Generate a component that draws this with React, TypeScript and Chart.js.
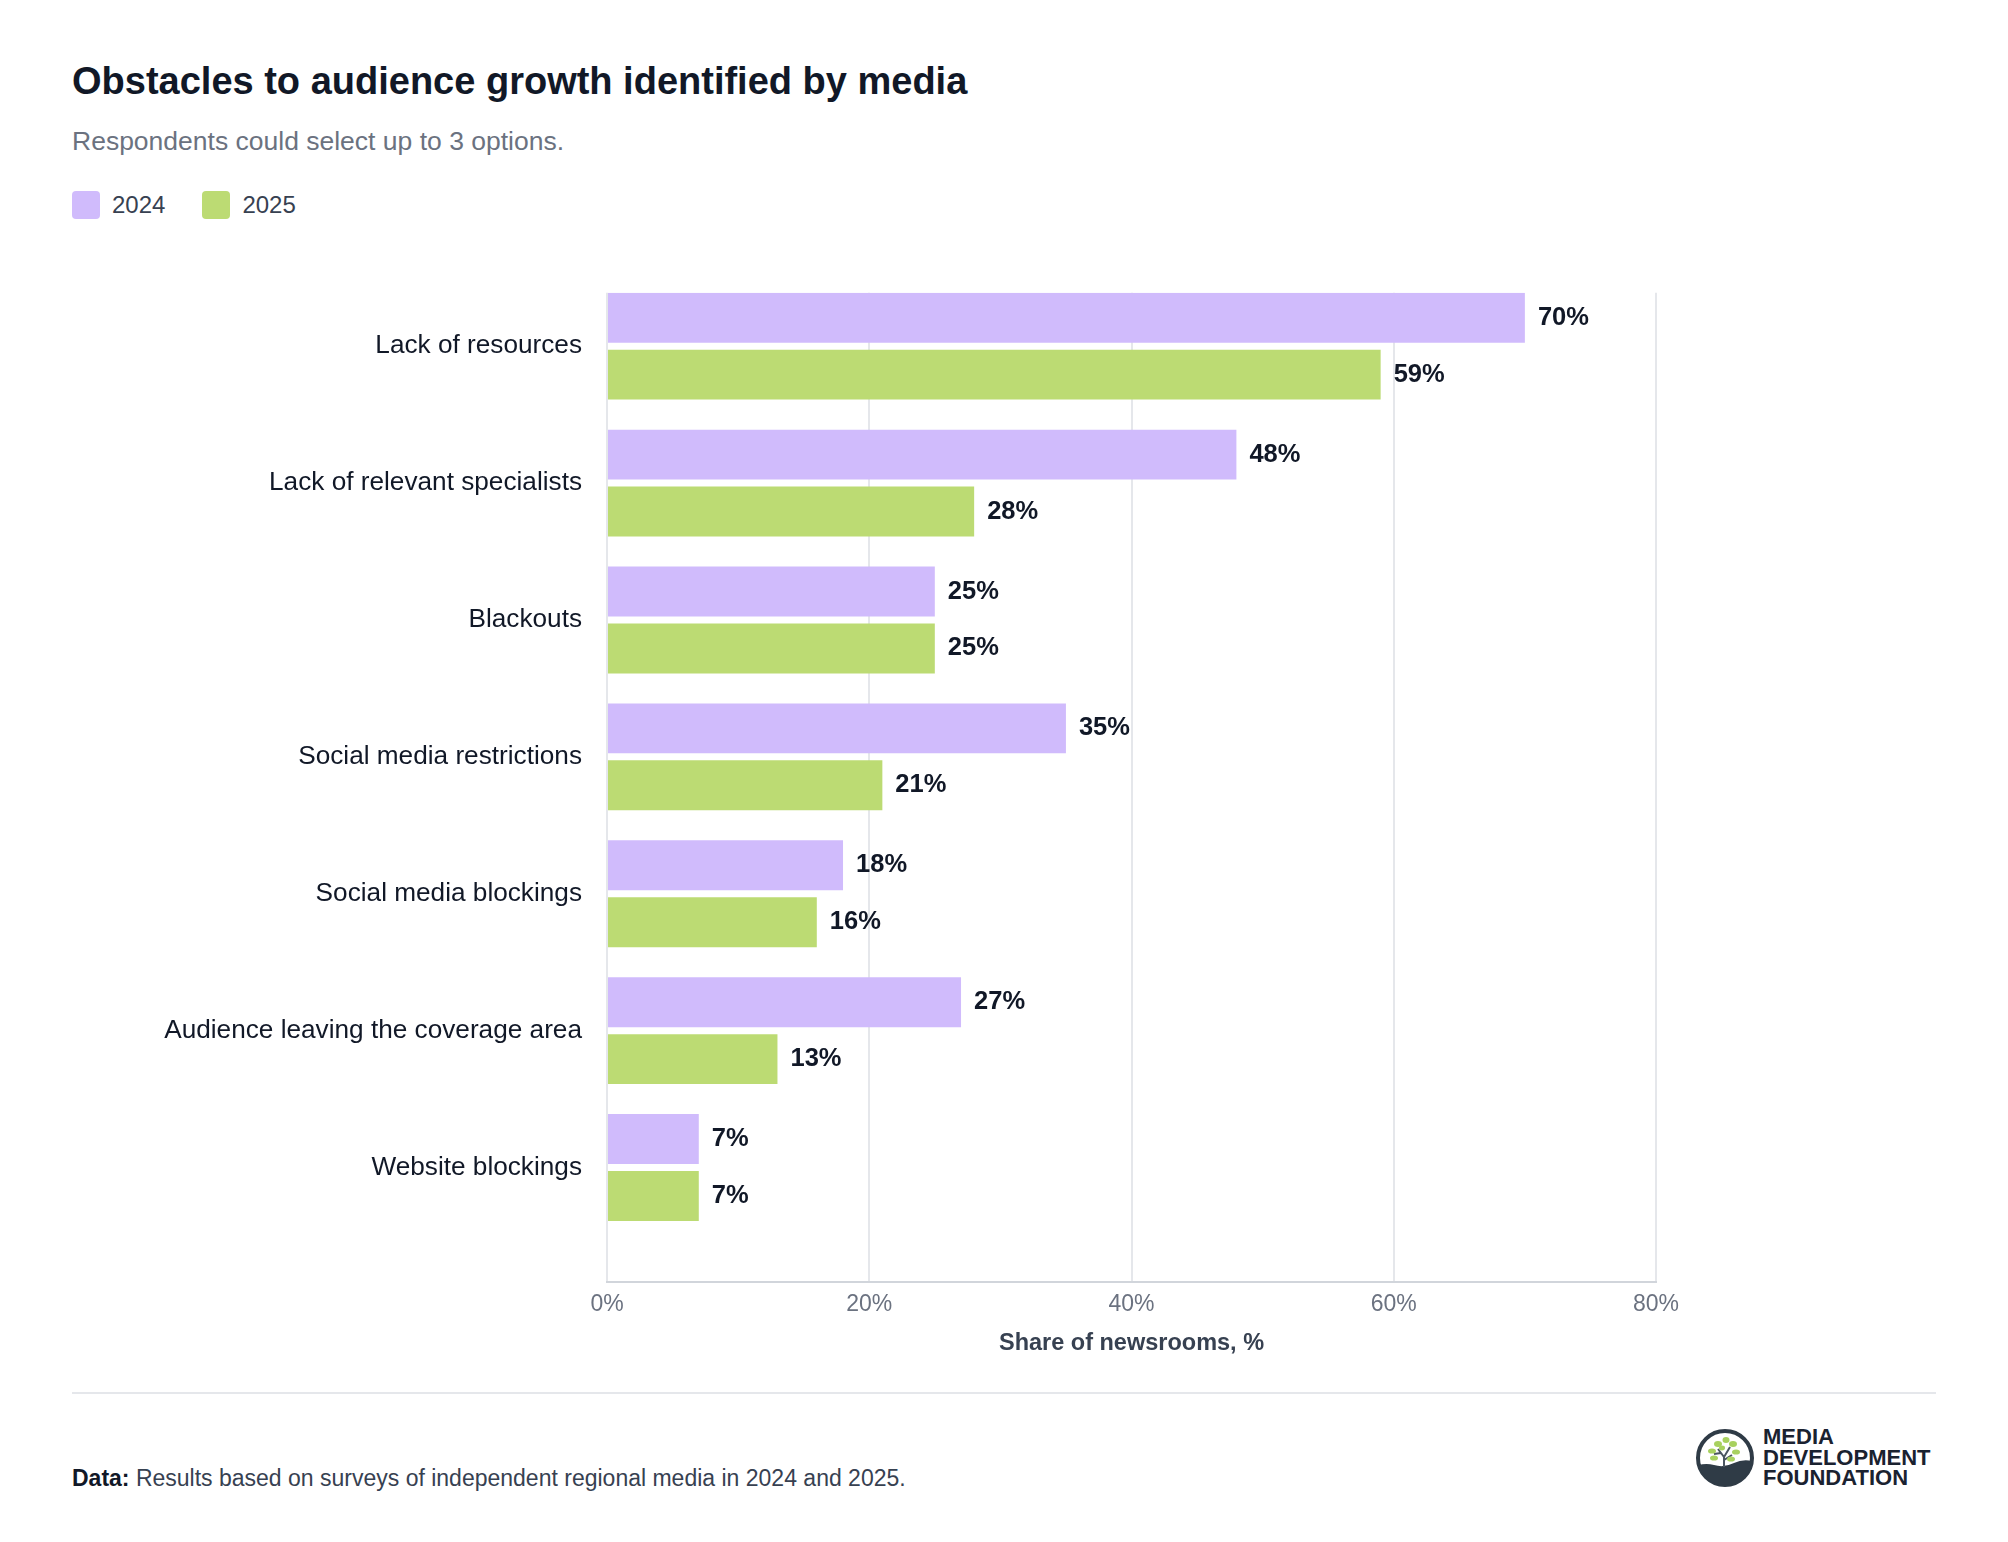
import React, { useEffect, useRef } from 'react';
import { Chart, registerables } from 'chart.js';

Chart.register(...registerables);

const FONT = "'Liberation Sans', Arial, Helvetica, sans-serif";

const categories = [
  'Lack of resources',
  'Lack of relevant specialists',
  'Blackouts',
  'Social media restrictions',
  'Social media blockings',
  'Audience leaving the coverage area',
  'Website blockings',
];
const values2024 = [70, 48, 25, 35, 18, 27, 7];
const values2025 = [59, 28, 25, 21, 16, 13, 7];
const seriesNames = ['2024', '2025'];
const seriesColors = ['#d0bbfc', '#bcdb73'];

// draws "70%" etc. right of each bar
const valueLabels = {
  id: 'valueLabels',
  afterDatasetsDraw(chart: any) {
    const { ctx } = chart;
    ctx.save();
    ctx.font = `bold 25.5px ${FONT}`;
    ctx.fillStyle = '#111827';
    ctx.textAlign = 'left';
    ctx.textBaseline = 'middle';
    chart.data.datasets.forEach((ds: any, di: number) => {
      chart.getDatasetMeta(di).data.forEach((bar: any, i: number) => {
        ctx.fillText(`${ds.data[i].x}%`, bar.x + 13, bar.y);
      });
    });
    ctx.restore();
  },
};

const BarChart: React.FC = () => {
  const chartRef = useRef<HTMLCanvasElement>(null);
  const chartInstance = useRef<Chart | null>(null);

  useEffect(() => {
    if (!chartRef.current) return;
    if (chartInstance.current) chartInstance.current.destroy();
    const ctx = chartRef.current.getContext('2d');
    if (!ctx) return;

    Chart.defaults.font.family = FONT;

    chartInstance.current = new Chart(ctx, {
      type: 'bar',
      data: {
        datasets: [values2024, values2025].map((vals, si) => ({
          label: seriesNames[si],
          data: vals.map((v, i) => ({ x: v, y: i })),
          backgroundColor: seriesColors[si],
          borderWidth: 0,
          categoryPercentage: 0.832,
          barPercentage: 0.877,
        })),
      },
      options: {
        indexAxis: 'y' as const,
        animation: false,
        responsive: true,
        maintainAspectRatio: false,
        layout: { padding: { top: 0, right: 352, bottom: 0, left: 0 } },
        plugins: {
          legend: { display: false },
          tooltip: { enabled: false },
          title: { display: false },
        },
        scales: {
          x: {
            type: 'linear',
            position: 'bottom',
            min: 0,
            max: 80,
            offset: false,
            ticks: {
              stepSize: 20,
              callback: (v: any) => `${v}%`,
              color: '#6b7280',
              font: { size: 23 },
              padding: 9,
            },
            grid: { color: '#e5e7eb', lineWidth: 2, drawTicks: false },
            border: { display: true, color: '#d1d5db', width: 2 },
            title: {
              display: true,
              text: 'Share of newsrooms, %',
              color: '#374151',
              font: { size: 23.5, weight: 'bold' },
              padding: { top: 0, bottom: 14 },
            },
            afterFit: (s: any) => {
              s.height = 90;
            },
          },
          y: {
            type: 'linear',
            reverse: true,
            offset: false,
            min: -0.3905,
            max: 6.836,
            afterBuildTicks: (s: any) => {
              s.ticks = categories.map((_, i) => ({ value: i }));
            },
            ticks: {
              autoSkip: false,
              callback: (v: any) => categories[v] ?? '',
              color: '#111827',
              font: { size: 26.2 },
              padding: 25,
            },
            grid: { display: false, drawTicks: false },
            border: { display: false },
            afterFit: (s: any) => {
              s.width = 607;
            },
          },
        },
      },
      plugins: [valueLabels],
    } as any);

    return () => {
      if (chartInstance.current) {
        chartInstance.current.destroy();
        chartInstance.current = null;
      }
    };
  }, []);

  // chart area top = container top + y-axis label padding (≈40px)
  return (
    <div style={{ position: 'absolute', left: 0, top: 252, width: 2008, height: 1120 }}>
      <canvas ref={chartRef}></canvas>
    </div>
  );
};

const Logo: React.FC = () => (
  <div style={{ position: 'absolute', left: 1694, top: 1427, display: 'flex', alignItems: 'flex-start' }}>
    <svg width="62" height="62" viewBox="0 0 62 62">
      <defs>
        <clipPath id="mdfClip">
          <circle cx="31" cy="31" r="27" />
        </clipPath>
      </defs>
      <circle cx="31" cy="31" r="27" fill="#fff" stroke="#2f3b46" strokeWidth="4" />
      <g clipPath="url(#mdfClip)">
        <path d="M0 40 Q10 35 20 38 T40 36 T62 35 V62 H0 Z" fill="#2f3b46" />
      </g>
      <path d="M30 40 L30 30 L24 22 M30 30 L36 20 M30 33 L38 28 M27 26 L20 27" stroke="#4a5560" strokeWidth="2" fill="none" />
      <g fill="#a8d15f">
        <ellipse cx="24" cy="17" rx="4" ry="3" />
        <ellipse cx="32" cy="13" rx="3.5" ry="3" />
        <ellipse cx="39" cy="17" rx="4" ry="3" />
        <ellipse cx="18" cy="24" rx="4" ry="2.6" />
        <ellipse cx="42" cy="25" rx="4" ry="2.6" />
        <ellipse cx="20" cy="31" rx="4" ry="2.6" />
        <ellipse cx="37" cy="32" rx="4" ry="2.6" />
        <ellipse cx="28" cy="21" rx="3" ry="2.4" />
      </g>
    </svg>
    <div
      style={{
        marginLeft: 7,
        fontFamily: FONT,
        fontWeight: 'bold',
        fontSize: 22,
        lineHeight: '20.5px',
        color: '#1a2230',
      }}
    >
      <div>MEDIA</div>
      <div>DEVELOPMENT</div>
      <div>FOUNDATION</div>
    </div>
  </div>
);

export default function App() {
  useEffect(() => {
    document.body.style.margin = '0';
  }, []);

  return (
    <div style={{ position: 'relative', width: 2008, height: 1542, background: '#fff', fontFamily: FONT }}>
      <div style={{ position: 'absolute', left: 72, top: 62, fontSize: 38, lineHeight: '38px', fontWeight: 'bold', color: '#111827' }}>
        Obstacles to audience growth identified by media
      </div>
      <div style={{ position: 'absolute', left: 72, top: 128, fontSize: 26.5, lineHeight: '26.5px', color: '#6b7280' }}>
        Respondents could select up to 3 options.
      </div>
      <div style={{ position: 'absolute', left: 72, top: 191, display: 'flex', alignItems: 'center', fontSize: 24, color: '#374151' }}>
        {seriesNames.map((name, i) => (
          <div key={name} style={{ display: 'flex', alignItems: 'center', marginRight: 37 }}>
            <div style={{ width: 28, height: 28, borderRadius: 4, background: seriesColors[i], marginRight: 12 }} />
            <span style={{ lineHeight: '28px' }}>{name}</span>
          </div>
        ))}
      </div>
      <BarChart />
      <div style={{ position: 'absolute', left: 72, top: 1392, width: 1864, height: 2, background: '#e5e7eb' }} />
      <div style={{ position: 'absolute', left: 72, top: 1467, fontSize: 23, lineHeight: '23px', color: '#374151' }}>
        <b style={{ color: '#111827' }}>Data:</b> Results based on surveys of independent regional media in 2024 and 2025.
      </div>
      <Logo />
    </div>
  );
}
